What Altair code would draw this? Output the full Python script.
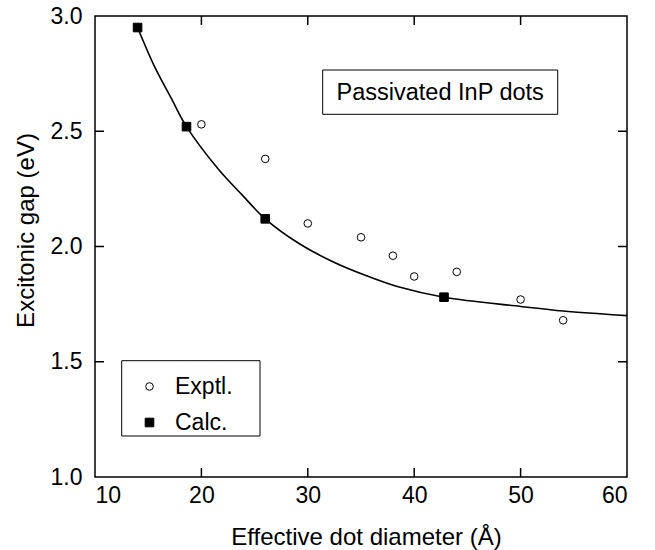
import altair as alt
import pandas as pd

FONT = "Liberation Sans"

# ---- data ----
exp_x = [20, 26, 30, 35, 38, 40, 44, 50, 54]
exp_y = [2.53, 2.38, 2.10, 2.04, 1.96, 1.87, 1.89, 1.77, 1.68]
calc_x = [14, 18.6, 26, 42.8]
calc_y = [2.95, 2.52, 2.12, 1.78]
curve_x = [14, 15.6, 17.2, 18.6, 21.6, 23.8, 26, 29.1, 32.3, 35.4, 38.5, 42.8, 50, 54, 60]
curve_y = [2.95, 2.78, 2.64, 2.52, 2.335, 2.225, 2.12, 2.015, 1.935, 1.875, 1.825, 1.78, 1.74, 1.72, 1.70]
x_ticks = [10, 20, 30, 40, 50, 60]
y_ticks = [1.0, 1.5, 2.0, 2.5, 3.0]
x_inner_ticks = [20, 30, 40, 50]
y_inner_ticks = [1.5, 2.0, 2.5]
series_names = ["Exptl.", "Calc."]
annotation = ["Passivated InP dots"]

W, H = 532, 461
TICK = 9

points_df = pd.DataFrame(
    {"x": exp_x + calc_x,
     "y": exp_y + calc_y,
     "series": [series_names[0]] * len(exp_x) + [series_names[1]] * len(calc_x)}
)
curve_df = pd.DataFrame({"x": curve_x, "y": curve_y})
xt_df = pd.DataFrame({"x": x_inner_ticks})
yt_df = pd.DataFrame({"y": y_inner_ticks})
ann_df = pd.DataFrame({"label": annotation})

xscale = alt.Scale(domain=[10, 60], nice=False, zero=False)
yscale = alt.Scale(domain=[1, 3], nice=False, zero=False)

xaxis = alt.Axis(values=x_ticks, format="d", title="Effective dot diameter (Å)",
                 labelPadding=7, titleX=271, titleY=67, titleBaseline="alphabetic")
yaxis = alt.Axis(values=y_ticks, format=".1f", title="Excitonic gap (eV)",
                 labelPadding=13, titleX=-69, titleY=214, titleBaseline="middle",
                 titleAngle=270)


def X(field="x"):
    return alt.X(f"{field}:Q", scale=xscale, axis=xaxis)


def Y(field="y"):
    return alt.Y(f"{field}:Q", scale=yscale, axis=yaxis)


curve = alt.Chart(curve_df).mark_line(color="black", strokeWidth=1.6, interpolate="catmull-rom").encode(
    x=X(), y=Y()
)

legend = alt.Legend(title=None, orient="none", legendX=43, legendY=359, padding=0,
                    labelFont=FONT, labelFontSize=23, labelColor="black", labelOffset=14,
                    rowPadding=12, symbolStrokeColor="black", symbolStrokeWidth=1)

points = alt.Chart(points_df).mark_point(filled=True, strokeWidth=1, opacity=1).encode(
    x=X(), y=Y(),
    shape=alt.Shape("series:N", scale=alt.Scale(domain=series_names, range=["circle", "square"]), legend=legend),
    fill=alt.Fill("series:N", scale=alt.Scale(domain=series_names, range=["white", "black"]), legend=legend),
    stroke=alt.Stroke("series:N", scale=alt.Scale(domain=series_names, range=["black", "black"]), legend=legend),
    size=alt.Size("series:N", scale=alt.Scale(domain=series_names, range=[58, 74]), legend=legend),
)

top_ticks = alt.Chart(xt_df).mark_rule(color="black", strokeWidth=1.5).encode(
    x=X(), y=alt.value(0), y2=alt.value(TICK))
bottom_ticks = alt.Chart(xt_df).mark_rule(color="black", strokeWidth=1.5).encode(
    x=X(), y=alt.value(H), y2=alt.value(H - TICK))
left_ticks = alt.Chart(yt_df).mark_rule(color="black", strokeWidth=1.5).encode(
    y=Y(), x=alt.value(0), x2=alt.value(TICK))
right_ticks = alt.Chart(yt_df).mark_rule(color="black", strokeWidth=1.5).encode(
    y=Y(), x=alt.value(W), x2=alt.value(W - TICK))

legend_box = alt.Chart(ann_df).mark_rect(fill="white", stroke="black", strokeWidth=1).encode(
    x=alt.value(26.7), x2=alt.value(165), y=alt.value(344.7), y2=alt.value(420))
title_box = alt.Chart(ann_df).mark_rect(fill="white", stroke="black", strokeWidth=1).encode(
    x=alt.value(227.7), x2=alt.value(462.7), y=alt.value(54), y2=alt.value(98.3))
title_text = alt.Chart(ann_df).mark_text(font=FONT, fontSize=23.5, color="black",
                                         align="center", baseline="middle").encode(
    x=alt.value(345.2), y=alt.value(77), text="label:N")

chart = alt.layer(
    legend_box, title_box, title_text,
    top_ticks, bottom_ticks, left_ticks, right_ticks,
    curve, points,
).properties(
    width=W, height=H,
    autosize=alt.AutoSizeParams(type="none"),
    padding={"left": 95, "top": 16, "right": 28, "bottom": 73},
    background="white",
).configure_axis(
    domain=False, ticks=False, grid=False,
    labelFont=FONT, labelFontSize=23, labelColor="black",
    titleFont=FONT, titleFontSize=24, titleFontWeight="normal", titleColor="black",
).configure_view(stroke="black", strokeWidth=1.5)

chart.save("out.html", embed_options={"renderer": "svg", "actions": False})
